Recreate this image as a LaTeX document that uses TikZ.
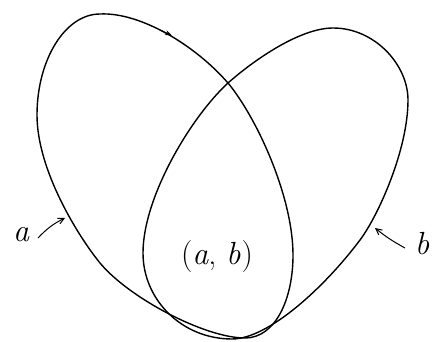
\documentclass[tikz,border=0pt]{standalone}
\usepackage{fontspec}
\usetikzlibrary{arrows.meta}
\begin{document}
\begin{tikzpicture}[x=1pt,y=-1pt,
  loop/.style={line width=1.4pt, line join=round},
  lbl/.style={font=\fontsize{32}{36}\selectfont\itshape, inner sep=1pt},
  ptr/.style={line width=1pt, -{Straight Barb[length=6pt,width=6pt]}}]
\useasboundingbox (0,0) rectangle (442,342);
% left loop (a)
\coordinate (C) at (228,83);
\draw[loop] (245,338) .. controls (275,338) and (293,300) .. (293,255)
  .. controls (293,197) and (257,118) .. (C)
  .. controls (195,45) and (140,12) .. (100,14)
  .. controls (65,14) and (37,60) .. (37,115)
  .. controls (37,170) and (78,236) .. (100,263)
  .. controls (129,298) and (205,338) .. cycle;
% right loop (b)
\draw[loop] (232,339) .. controls (182,339) and (143,300) .. (143,253)
  .. controls (143,197) and (191,117) .. (C)
  .. controls (254,60) and (300,28) .. (333,28)
  .. controls (375,28) and (408,65) .. (408,100)
  .. controls (408,150) and (378,216) .. (360,240)
  .. controls (324,288) and (268,339) .. cycle;
% arrowhead on the left loop
\coordinate (t1) at (160,30);
\coordinate (t2) at (172,35.5);
\draw[line width=1pt, -{Stealth[length=7pt,width=5pt]}] (t1) -- (t2);
% labels
\node[lbl] (a) at (21,235) {a};
\node[lbl] (b) at (422,244) {b};
\node[font=\fontsize{32}{36}\selectfont, inner sep=1pt] (ab) at (217,257) {(\textit{a}, \textit{b}\kern1pt)};
\coordinate (pa) at (65,218);
\coordinate (pb) at (375,228);
\coordinate (sa) at (38,238);
\coordinate (sb) at (405,248);
\draw[ptr] (sa) to[bend left=10] (pa);
\draw[ptr] (sb) to[bend left=5] (pb);
\end{tikzpicture}
\end{document}
